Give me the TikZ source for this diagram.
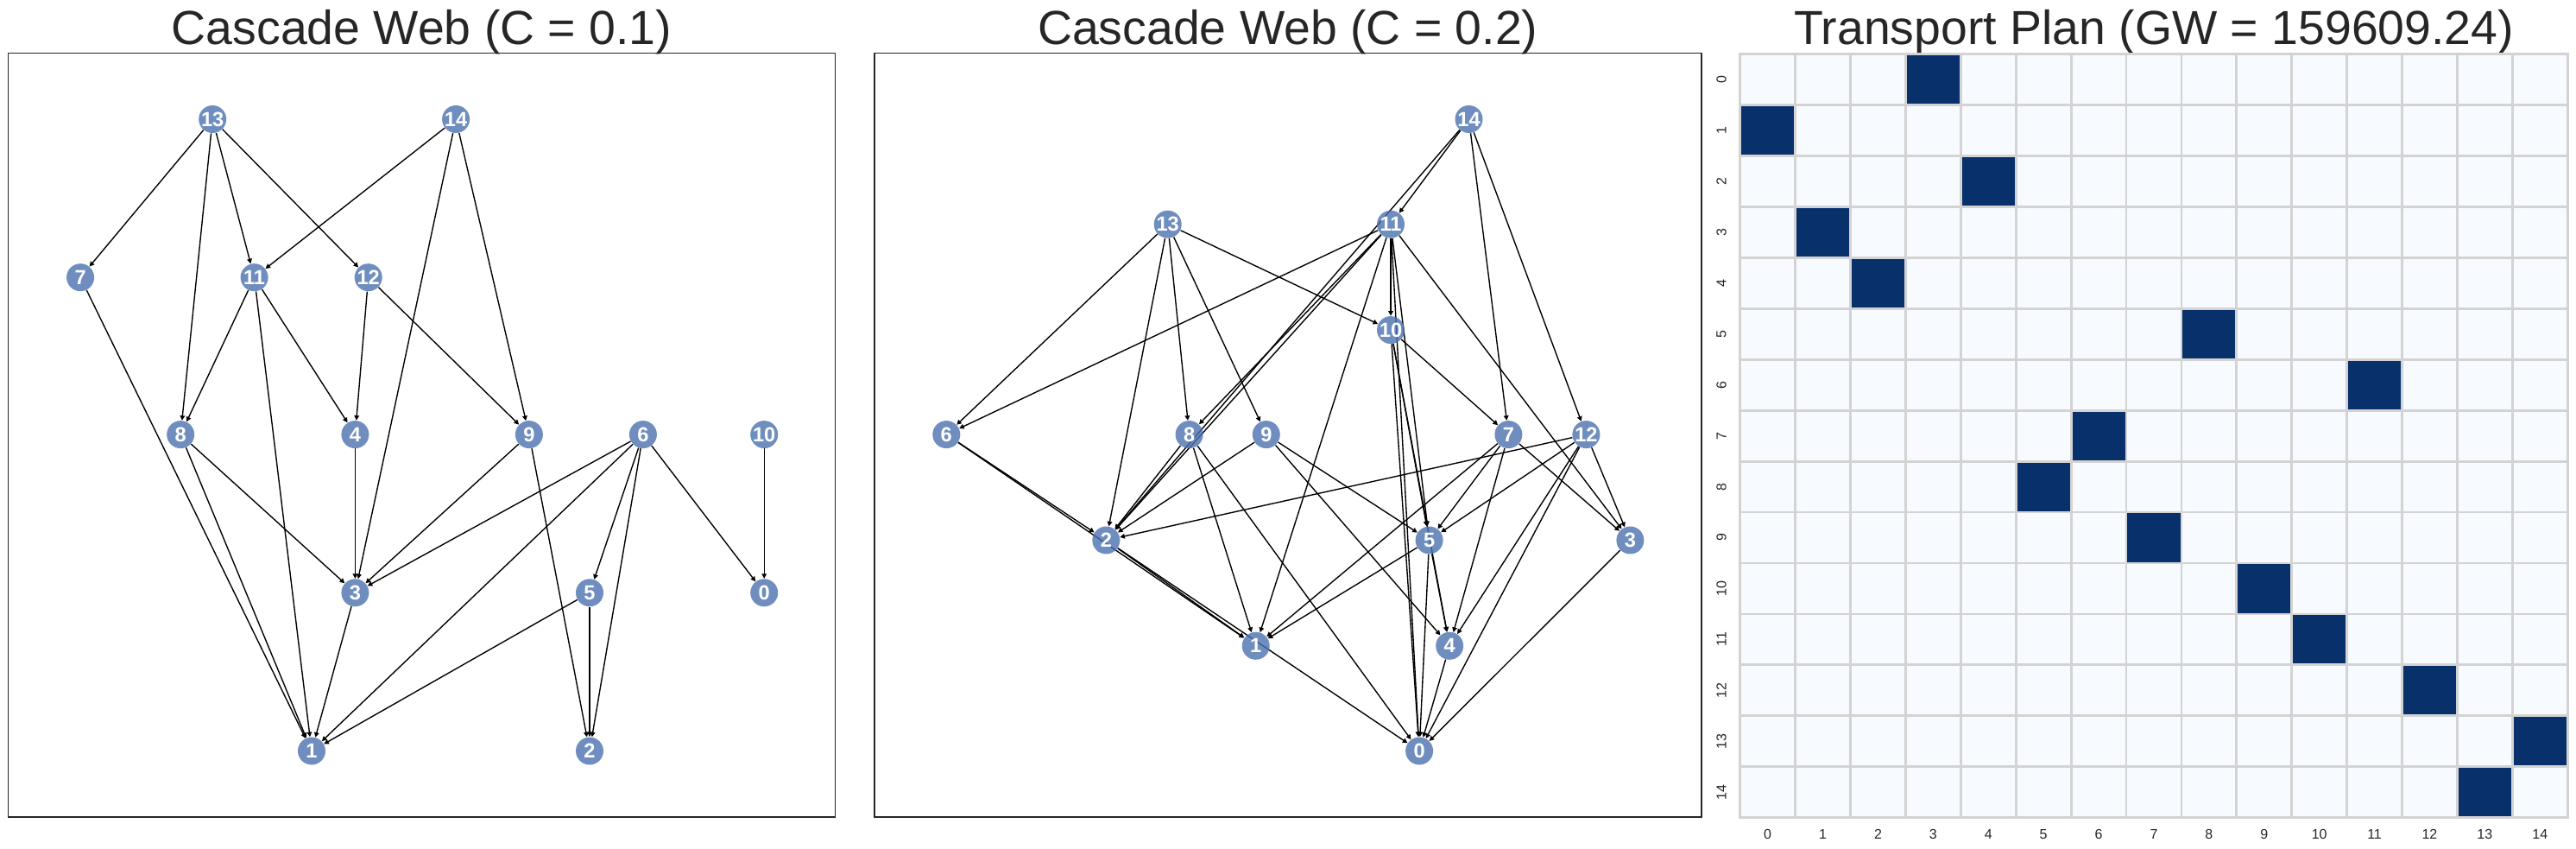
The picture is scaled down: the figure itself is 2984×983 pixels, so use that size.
\documentclass[tikz,border=0pt]{standalone}
\usepackage{fontspec}
\setmainfont{Liberation Sans}
\usetikzlibrary{arrows.meta}
\definecolor{nodeblue}{HTML}{4C72B0}
\definecolor{txt}{HTML}{262626}
\definecolor{darkcell}{HTML}{08306B}
\definecolor{lightcell}{HTML}{F7FBFF}
\definecolor{gridgray}{HTML}{D3D3D3}
\pgfdeclarelayer{bglayer}
\pgfdeclarelayer{edgelayer}
\pgfsetlayers{bglayer,edgelayer,main}
\begin{document}
\begin{tikzpicture}[x=0.5pt,y=-0.5pt,
  gnode/.style={circle, fill=nodeblue, fill opacity=0.8, text opacity=1, text=white,
    font=\fontsize{11.8}{13}\selectfont\bfseries, minimum size=16pt, inner sep=0pt},
  edge/.style={-{Triangle[length=2.8pt,width=2.8pt]}, line width=0.69pt, black},
  frame/.style={draw=txt, line width=0.87pt},
  titlestyle/.style={text=txt, font=\fontsize{27.7}{33}\selectfont, anchor=base, inner sep=0pt},
  tick/.style={text=txt, font=\fontsize{8}{9.6}\selectfont, inner sep=0pt},
  cell/.style={fill=lightcell, draw=gridgray, line width=1.39pt},
  dcell/.style={fill=darkcell, draw=gridgray, line width=1.39pt}]
\begin{pgfonlayer}{bglayer}
\path[use as bounding box, fill=white] (0,0) rectangle (2984,983);
\end{pgfonlayer}

% ---------- titles ----------
\node[titlestyle] (t1) at (488.5,51.5) {Cascade Web (C = 0.1)};
\node[titlestyle] (t2) at (1491.8,51.5) {Cascade Web (C = 0.2)};
\node[titlestyle] (t3) at (2495,51.5) {Transport Plan (GW = 159609.24)};

% ---------- frames ----------
\draw[frame] (9.6,61.5) rectangle (967.5,946);
\draw[frame] (1012.8,61.5) rectangle (1970.7,946);

% ---------- left graph ----------
\node[gnode] (L13) at (246.2,138) {13};
\node[gnode] (L14) at (528.1,138) {14};
\node[gnode] (L7) at (93.1,321.2) {7};
\node[gnode] (L11) at (294.6,321.2) {11};
\node[gnode] (L12) at (426.7,321.2) {12};
\node[gnode] (L8) at (209.2,503.1) {8};
\node[gnode] (L4) at (411.4,503.1) {4};
\node[gnode] (L9) at (612.9,503.1) {9};
\node[gnode] (L6) at (744.9,503.1) {6};
\node[gnode] (L10) at (885.2,503.1) {10};
\node[gnode] (L3) at (411.4,686.3) {3};
\node[gnode] (L5) at (683.0,686.3) {5};
\node[gnode] (L0) at (885.2,686.3) {0};
\node[gnode] (L1) at (361.0,869.5) {1};
\node[gnode] (L2) at (683.0,869.5) {2};

\begin{pgfonlayer}{edgelayer}
\foreach \a/\b in {13/7,13/8,13/11,13/12,14/11,14/3,14/9,7/1,11/8,11/1,11/4,12/4,12/9,
  8/1,8/3,4/3,9/3,9/2,6/3,6/1,6/5,6/2,6/0,10/0,3/1,5/1,5/2}
  \draw[edge] (L\a) -- (L\b);
\end{pgfonlayer}

% ---------- middle graph ----------
\node[gnode] (M14) at (1701.5,138) {14};
\node[gnode] (M13) at (1352.7,259.7) {13};
\node[gnode] (M11) at (1611.0,259.7) {11};
\node[gnode] (M10) at (1611.0,382.1) {10};
\node[gnode] (M6) at (1096.3,503.1) {6};
\node[gnode] (M8) at (1377.6,503.1) {8};
\node[gnode] (M9) at (1466.8,503.1) {9};
\node[gnode] (M7) at (1747.4,503.1) {7};
\node[gnode] (M12) at (1837.4,503.1) {12};
\node[gnode] (M2) at (1281.3,625.5) {2};
\node[gnode] (M5) at (1655.6,625.5) {5};
\node[gnode] (M3) at (1888.4,625.5) {3};
\node[gnode] (M1) at (1454.7,747.8) {1};
\node[gnode] (M4) at (1679.2,747.8) {4};
\node[gnode] (M0) at (1644.1,869.5) {0};

\begin{pgfonlayer}{edgelayer}
\foreach \a/\b in {13/6,13/2,13/8,13/9,13/10,
  14/11,14/2,14/7,14/12,
  11/6,11/8,11/2,11/1,11/10,11/0,11/5,11/3,
  10/7,10/0,10/5,10/4,
  6/2,6/1,8/2,8/1,8/0,9/2,9/5,9/4,
  7/1,7/5,7/4,7/3,12/2,12/5,12/4,12/0,12/3,
  2/1,2/0,5/1,5/0,5/4,4/0,3/0}
  \draw[edge] (M\a) -- (M\b);
\end{pgfonlayer}

% ---------- heatmap ----------
\foreach \r in {0,...,14}{
  \foreach \c in {0,...,14}{
    \path[cell] ({2015.7+\c*63.9},{62.8+\r*58.92}) rectangle ++(63.9,58.92);
  }
}
\foreach \r/\c in {0/3,1/0,2/4,3/1,4/2,5/8,6/11,7/6,8/5,9/7,10/9,11/10,12/12,13/14,14/13}
  \path[dcell] ({2015.7+\c*63.9},{62.8+\r*58.92}) rectangle ++(63.9,58.92);

\foreach \r in {0,...,14}
  \node[tick, rotate=90] (yt\r) at (1994,{62.8+(\r+0.5)*58.92}) {\r};
\foreach \c in {0,...,14}
  \node[tick] (xt\c) at ({2015.7+(\c+0.5)*63.9},966) {\c};
\end{tikzpicture}
\end{document}
